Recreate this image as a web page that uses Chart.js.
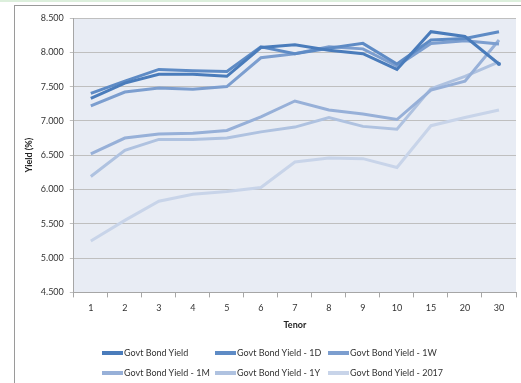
<!DOCTYPE html>
<html>
<head>
<meta charset="utf-8">
<script src="https://cdn.jsdelivr.net/npm/chart.js@4/dist/chart.umd.min.js"></script>
<style>
  body { margin: 0; background: #fff; font-family: Lato, "Open Sans", sans-serif; }
  #wrap { position: relative; width: 521px; height: 383px; overflow: hidden; }
  #topline { position: absolute; left: 0; top: 0; width: 521px; height: 2px; background: #dcefdc; }
  #frame { position: absolute; left: 14px; top: 5px; width: 540px; height: 400px;
           border-left: 1px solid #9a9a9a; border-top: 1px solid #9a9a9a; }
  canvas { position: absolute; left: 0; top: 0; }
  #legend { position: absolute; left: 102px; top: 345px; width: 360px;
            display: grid; grid-template-columns: 113px 113px 130px; row-gap: 5px;
            font-size: 9px; color: #333; }
  #legend .item { display: flex; align-items: center; white-space: nowrap; height: 15px; }
  #legend .sw { width: 21px; height: 4px; margin-right: 1px; }
</style>
</head>
<body>
<div id="wrap">
  <div id="topline"></div>
  <div id="frame"></div>
  <canvas id="yield_chart" width="521" height="383"></canvas>
  <div id="legend"></div>
</div>
<script>
// tenors on the x axis
const tenors = ["1", "2", "3", "4", "5", "6", "7", "8", "9", "10", "15", "20", "30"];

// yields
const govtBondYield = [7.33, 7.55, 7.68, 7.68, 7.65, 8.07, 8.11, 8.03, 7.98, 7.75, 8.30, 8.23, 7.83];
const yield1D       = [7.40, 7.58, 7.75, 7.73, 7.72, 8.08, 7.98, 8.06, 8.13, 7.83, 8.18, 8.20, 8.30];
const yield1W       = [7.22, 7.42, 7.48, 7.46, 7.50, 7.92, 7.98, 8.08, 8.05, 7.80, 8.13, 8.17, 8.12];
const yield1M       = [6.52, 6.75, 6.81, 6.82, 6.86, 7.06, 7.29, 7.16, 7.10, 7.02, 7.45, 7.58, 8.18];
const yield1Y       = [6.19, 6.57, 6.73, 6.73, 6.75, 6.84, 6.91, 7.05, 6.92, 6.88, 7.47, 7.65, 7.86];
const yield2017     = [5.25, 5.55, 5.83, 5.93, 5.97, 6.03, 6.40, 6.46, 6.45, 6.32, 6.93, 7.05, 7.16];

const seriesNames = ["Govt Bond Yield", "Govt Bond Yield - 1D", "Govt Bond Yield - 1W",
                     "Govt Bond Yield - 1M", "Govt Bond Yield - 1Y", "Govt Bond Yield - 2017"];
const seriesData = [govtBondYield, yield1D, yield1W, yield1M, yield1Y, yield2017];
const seriesColors = ["#4a7cbb", "#5e8bc5", "#7c9ecf", "#97b0d8", "#afc2e0", "#c8d4e9"];

const fontFam = "Lato, 'Open Sans', sans-serif";

// fill the plot area background
const plotBg = {
  id: "plotBg",
  beforeDraw(chart) {
    const a = chart.chartArea;
    const c = chart.ctx;
    c.save();
    c.fillStyle = "#e8ecf4";
    c.fillRect(a.left, a.top, a.right - a.left, a.bottom - a.top);
    c.restore();
  }
};

const datasets = seriesNames.map((name, i) => ({
  label: name,
  data: seriesData[i],
  borderColor: seriesColors[i],
  backgroundColor: seriesColors[i],
  borderWidth: 3,
  fill: false,
  tension: 0,
  pointBorderWidth: 0,
  pointRadius: i === 0 ? seriesData[i].map((v, k) => (k === seriesData[i].length - 1 ? 2 : 0)) : 0,
}));

const ctx = document.getElementById("yield_chart").getContext("2d");
new Chart(ctx, {
  type: "line",
  data: { labels: tenors, datasets: datasets },
  plugins: [plotBg],
  options: {
    responsive: false,
    animation: false,
    layout: { padding: { left: 24, right: 5, top: 18, bottom: 49 } },
    plugins: { legend: { display: false }, tooltip: { enabled: false } },
    scales: {
      x: {
        offset: true,
        grid: { offset: true, drawOnChartArea: false, color: "#a6a6a6", tickLength: 5 },
        border: { color: "#a6a6a6" },
        ticks: { color: "#333", font: { family: fontFam, size: 9 }, padding: 5 },
        title: { display: true, text: "Tenor", color: "#222",
                 font: { family: fontFam, size: 9, weight: "bold" }, padding: { top: 1 } }
      },
      y: {
        min: 4.5,
        max: 8.5,
        ticks: {
          stepSize: 0.5,
          color: "#333",
          font: { family: fontFam, size: 9 },
          padding: 6,
          callback: (v) => v.toFixed(3)
        },
        grid: { color: "#bfbfbf", tickLength: 4 },
        border: { color: "#a6a6a6" },
        title: { display: true, text: "Yield (%)", color: "#222",
                 font: { family: fontFam, size: 9, weight: "bold" }, padding: { top: 0, bottom: 0 } }
      }
    }
  }
});

// legend in 3 columns, 2 rows
const legend = document.getElementById("legend");
seriesNames.forEach((name, i) => {
  const item = document.createElement("div");
  item.className = "item";
  item.innerHTML = `<span class="sw" style="background:${seriesColors[i]}"></span>${name}`;
  legend.appendChild(item);
});
</script>
</body>
</html>
